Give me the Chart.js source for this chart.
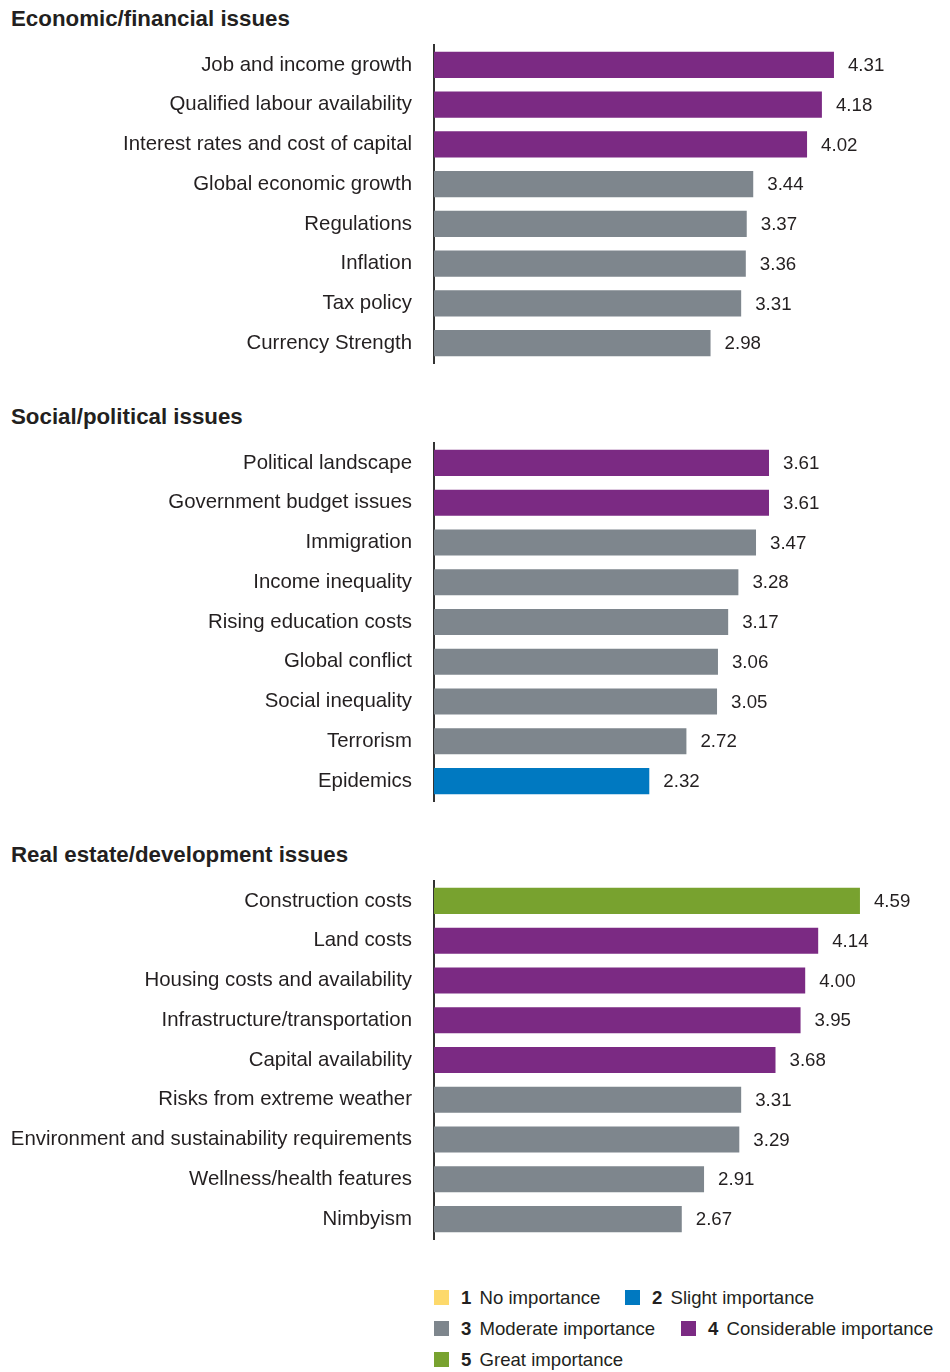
<!DOCTYPE html>
<html>
<head>
<meta charset="utf-8">
<script src="https://cdn.jsdelivr.net/npm/chart.js@4/dist/chart.umd.min.js"></script>
<style>
  body { margin: 0; background: #fff; font-family: "Liberation Sans", Arial, sans-serif; color: #231f20; }
  .page { position: relative; width: 950px; height: 1372px; }
  .title { position: absolute; left: 11px; font-size: 22.3px; font-weight: bold; }
  .box { position: absolute; left: 0; width: 950px; }
  .legend { position: absolute; font-size: 18.6px; white-space: nowrap; }
  .legend .sw { display: inline-block; width: 15px; height: 15px; vertical-align: -1px; margin-right: 12px; }
  .legend b { margin-right: 3px; }
</style>
</head>
<body>
<div class="page">
  <div class="title" style="top:6px">Economic/financial issues</div>
  <div class="box" style="top:33px;height:342px"><canvas id="econChart"></canvas></div>

  <div class="title" style="top:404px">Social/political issues</div>
  <div class="box" style="top:431px;height:382px"><canvas id="socialChart"></canvas></div>

  <div class="title" style="top:842px">Real estate/development issues</div>
  <div class="box" style="top:869px;height:382px"><canvas id="realChart"></canvas></div>

  <div id="legend"></div>
</div>
<script>
// Economic/financial issues
const econLabels = ['Job and income growth', 'Qualified labour availability', 'Interest rates and cost of capital',
    'Global economic growth', 'Regulations', 'Inflation', 'Tax policy', 'Currency Strength'];
const econValues = [4.31, 4.18, 4.02, 3.44, 3.37, 3.36, 3.31, 2.98];

// Social/political issues
const socialLabels = ['Political landscape', 'Government budget issues', 'Immigration', 'Income inequality',
    'Rising education costs', 'Global conflict', 'Social inequality', 'Terrorism', 'Epidemics'];
const socialValues = [3.61, 3.61, 3.47, 3.28, 3.17, 3.06, 3.05, 2.72, 2.32];

// Real estate/development issues
const realLabels = ['Construction costs', 'Land costs', 'Housing costs and availability', 'Infrastructure/transportation',
    'Capital availability', 'Risks from extreme weather', 'Environment and sustainability requirements',
    'Wellness/health features', 'Nimbyism'];
const realValues = [4.59, 4.14, 4.00, 3.95, 3.68, 3.31, 3.29, 2.91, 2.67];

// Importance scale (legend)
const levelNumbers = ['1', '2', '3', '4', '5'];
const levelNames = ['No importance', 'Slight importance', 'Moderate importance', 'Considerable importance', 'Great importance'];
const levelColors = ['#fdd96b', '#0079c1', '#7e868d', '#7b2a83', '#78a22f'];

const textColor = '#231f20';
const fontFamily = '"Liberation Sans", Arial, sans-serif';

// colour of a bar = the importance level its mean score rounds to
function barColor(v) {
    return levelColors[Math.round(v) - 1];
}

const valueLabels = {
    id: 'valueLabels',
    afterDatasetsDraw(chart) {
        const ctx = chart.ctx;
        const meta = chart.getDatasetMeta(0);
        ctx.save();
        ctx.font = '18.7px ' + fontFamily;
        ctx.fillStyle = textColor;
        ctx.textAlign = 'left';
        ctx.textBaseline = 'middle';
        meta.data.forEach((bar, i) => {
            const v = chart.data.datasets[0].data[i];
            ctx.fillText(v.toFixed(2), bar.x + 14, bar.y + 1);
        });
        ctx.restore();
    }
};

function makeChart(id, labels, values) {
    const ctx = document.getElementById(id).getContext('2d');
    return new Chart(ctx, {
        type: 'bar',
        data: {
            labels: labels,
            datasets: [{
                data: values,
                backgroundColor: values.map(barColor),
                borderWidth: 0,
                categoryPercentage: 1,
                barPercentage: 0.655
            }]
        },
        options: {
            indexAxis: 'y',
            responsive: true,
            maintainAspectRatio: false,
            animation: false,
            layout: {
                padding: { top: 12, bottom: 12, left: 0, right: 52 }
            },
            plugins: {
                legend: { display: false },
                tooltip: { enabled: false }
            },
            scales: {
                x: {
                    display: false,
                    min: 0,
                    max: 5
                },
                y: {
                    afterFit(scale) {
                        scale.width = 434;
                        scale.paddingTop = 0;
                        scale.paddingBottom = 0;
                    },
                    grid: { display: false, drawTicks: false },
                    border: { display: true, color: '#333', width: 2 },
                    ticks: {
                        padding: 22,
                        color: textColor,
                        font: { family: fontFamily, size: 20.4 }
                    }
                }
            }
        },
        plugins: [valueLabels]
    });
}

makeChart('econChart', econLabels, econValues);
makeChart('socialChart', socialLabels, socialValues);
makeChart('realChart', realLabels, realValues);

// legend
const legendPos = [[434, 1287], [625, 1287], [434, 1318], [681, 1318], [434, 1349]];
const legendEl = document.getElementById('legend');
levelNames.forEach((name, i) => {
    const item = document.createElement('div');
    item.className = 'legend';
    item.style.left = legendPos[i][0] + 'px';
    item.style.top = legendPos[i][1] + 'px';
    item.innerHTML = '<span class="sw" style="background:' + levelColors[i] + '"></span><b>' +
        levelNumbers[i] + '</b> ' + name;
    legendEl.appendChild(item);
});
</script>
</body>
</html>
